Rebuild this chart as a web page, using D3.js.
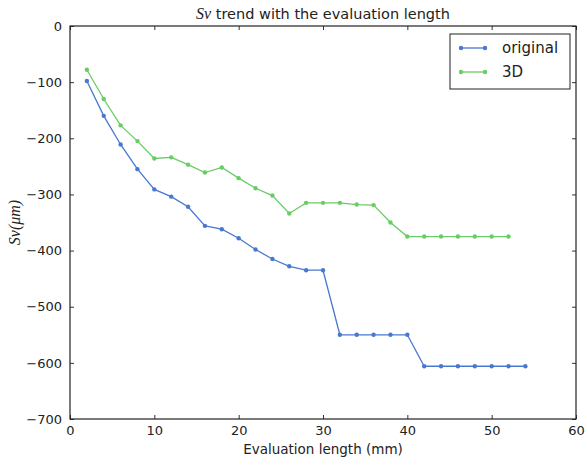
<!DOCTYPE html>
<html>
<head>
<meta charset="utf-8">
<script src="https://cdn.jsdelivr.net/npm/d3@7"></script>
<style>
  body { margin: 0; background: #fff; }
  svg { font-family: "DejaVu Sans", sans-serif; }
  .math { font-family: "Liberation Serif", "DejaVu Serif", serif; font-style: italic; }
</style>
</head>
<body>
<div id="chart"></div>
<script>
// evaluation lengths (mm)
const lengthsOriginal = [2, 4, 6, 8, 10, 12, 14, 16, 18, 20, 22, 24, 26, 28, 30, 32, 34, 36, 38, 40, 42, 44, 46, 48, 50, 52, 54];
const lengths3D = [2, 4, 6, 8, 10, 12, 14, 16, 18, 20, 22, 24, 26, 28, 30, 32, 34, 36, 38, 40, 42, 44, 46, 48, 50, 52];

// Sv values (um)
const svOriginal = [-98, -160, -211, -255, -291, -304, -322, -356, -362, -378, -398, -415, -428, -435, -435,
  -550, -550, -550, -550, -550, -606, -606, -606, -606, -606, -606, -606];
const sv3D = [-78, -130, -177, -205, -236, -234, -247, -261, -252, -271, -289, -302, -334, -315, -315,
  -315, -318, -319, -350, -375, -375, -375, -375, -375, -375, -375];

const xTicks = [0, 10, 20, 30, 40, 50, 60];
const yTicks = [0, -100, -200, -300, -400, -500, -600, -700];

const seriesNames = ["original", "3D"];
const seriesColors = ["#4878CF", "#6ACC65"];

const width = 587, height = 461;
const margin = { top: 26, right: 11, bottom: 42, left: 70 };
const innerW = width - margin.left - margin.right;
const innerH = height - margin.top - margin.bottom;

const svg = d3.select("#chart").append("svg")
  .attr("width", width)
  .attr("height", height);

const g = svg.append("g").attr("transform", `translate(${margin.left},${margin.top})`);

const x = d3.scaleLinear().domain([0, 60]).range([0, innerW]);
const y = d3.scaleLinear().domain([-700, 0]).range([innerH, 0]);

const tickLen = 4;
const fmt = d => d < 0 ? "\u2212" + Math.abs(d) : String(d);

// axes with inward ticks on all sides
g.append("g").attr("transform", `translate(0,${innerH})`)
  .call(d3.axisBottom(x).tickValues(xTicks).tickSize(-tickLen).tickPadding(7).tickFormat(fmt))
  .call(a => a.select(".domain").remove());
g.append("g")
  .call(d3.axisTop(x).tickValues(xTicks).tickSize(-tickLen).tickFormat(""))
  .call(a => a.select(".domain").remove());
g.append("g")
  .call(d3.axisLeft(y).tickValues(yTicks).tickSize(-tickLen).tickPadding(8).tickFormat(fmt))
  .call(a => a.select(".domain").remove());
g.append("g").attr("transform", `translate(${innerW},0)`)
  .call(d3.axisRight(y).tickValues(yTicks).tickSize(-tickLen).tickFormat(""))
  .call(a => a.select(".domain").remove());

g.selectAll(".tick line").attr("stroke", "#333").attr("stroke-width", 1);
g.selectAll(".tick text").attr("font-size", 13).attr("fill", "#222")
  .attr("font-family", "DejaVu Sans, sans-serif");

g.append("rect")
  .attr("width", innerW).attr("height", innerH)
  .attr("fill", "none").attr("stroke", "#222").attr("stroke-width", 1.2);

const series = [
  { name: seriesNames[0], xs: lengthsOriginal, ys: svOriginal, color: seriesColors[0] },
  { name: seriesNames[1], xs: lengths3D, ys: sv3D, color: seriesColors[1] }
];

const line = d3.line().x(d => x(d[0])).y(d => y(d[1]));

series.forEach(s => {
  const pts = s.xs.map((v, i) => [v, s.ys[i]]);
  g.append("path").datum(pts)
    .attr("d", line)
    .attr("fill", "none")
    .attr("stroke", s.color)
    .attr("stroke-width", 1.3);
  g.append("g").selectAll("circle")
    .data(pts)
    .enter()
    .append("circle")
    .attr("cx", d => x(d[0]))
    .attr("cy", d => y(d[1]))
    .attr("r", 2.2)
    .attr("fill", s.color);
});

// title
const title = svg.append("text")
  .attr("x", margin.left + innerW / 2)
  .attr("y", 19)
  .attr("text-anchor", "middle")
  .attr("font-size", 14.5)
  .attr("fill", "#222");
title.append("tspan").attr("class", "math").attr("font-size", 16).text("Sv");
title.append("tspan").text(" trend with the evaluation length");

// axis labels
svg.append("text")
  .attr("x", margin.left + innerW / 2)
  .attr("y", height - 7)
  .attr("text-anchor", "middle")
  .attr("font-size", 13.5)
  .attr("fill", "#222")
  .text("Evaluation length (mm)");

svg.append("text")
  .attr("class", "math")
  .attr("transform", `translate(20,${margin.top + innerH / 2}) rotate(-90)`)
  .attr("text-anchor", "middle")
  .attr("font-size", 16)
  .attr("fill", "#222")
  .text("Sv(\u03BCm)");

// legend
const legend = svg.append("g").attr("transform", "translate(450,34)");
legend.append("rect")
  .attr("width", 120).attr("height", 55)
  .attr("fill", "#fff").attr("stroke", "#222").attr("stroke-width", 1);
series.forEach((s, i) => {
  const ly = 14 + i * 24;
  legend.append("line")
    .attr("x1", 11).attr("x2", 35).attr("y1", ly).attr("y2", ly)
    .attr("stroke", s.color).attr("stroke-width", 1.3);
  [11, 35].forEach(cx => legend.append("circle")
    .attr("cx", cx).attr("cy", ly).attr("r", 2.2).attr("fill", s.color));
  legend.append("text")
    .attr("x", 52).attr("y", ly + 5)
    .attr("font-size", 15)
    .attr("fill", "#222")
    .text(s.name);
});
</script>
</body>
</html>
